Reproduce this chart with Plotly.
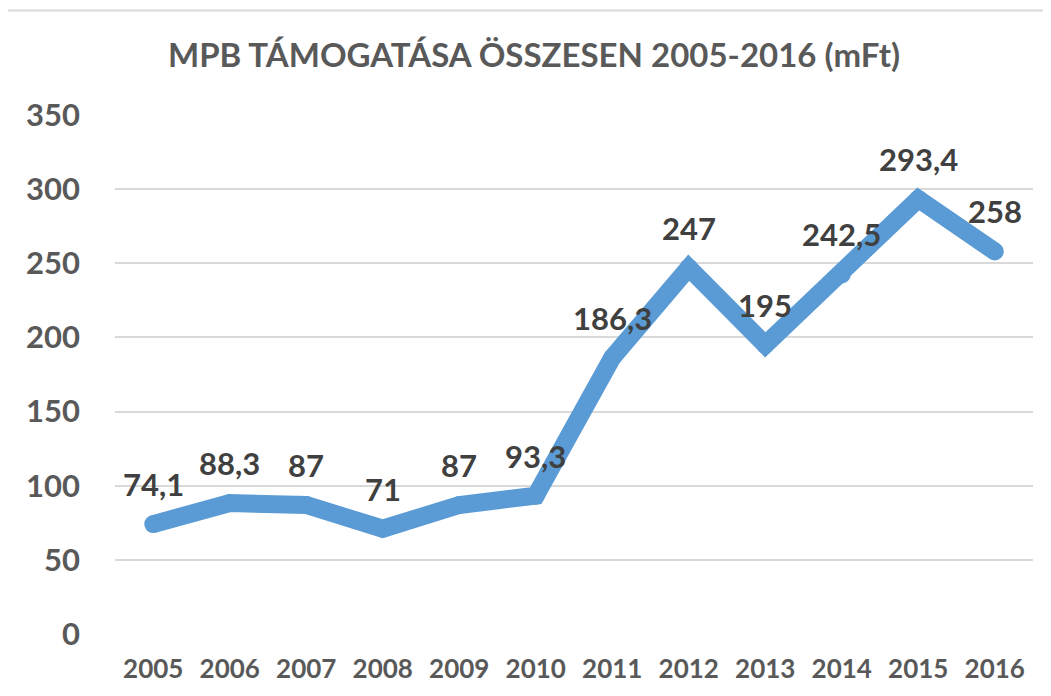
import plotly.graph_objects as go

years = ["2005", "2006", "2007", "2008", "2009", "2010", "2011", "2012", "2013", "2014", "2015", "2016"]
values = [74.1, 88.3, 87, 71, 87, 93.3, 186.3, 247, 195, 242.5, 293.4, 258]
labels = ["74,1", "88,3", "87", "71", "87", "93,3", "186,3", "247", "195", "242,5", "293,4", "258"]
y_ticks = [0, 50, 100, 150, 200, 250, 300, 350]

FONT = "Lato, Noto Sans, sans-serif"
LINE_W = 18

fig = go.Figure()
fig.add_trace(go.Scatter(
    x=years, y=values, mode="lines+markers",
    line=dict(color="#5B9BD5", width=LINE_W),
    marker=dict(color="#5B9BD5", size=LINE_W, line=dict(width=0)),
    hoverinfo="skip", showlegend=False,
))

for i, (v, lab) in enumerate(zip(values, labels)):
    fig.add_annotation(x=i, y=v, text=lab, showarrow=False,
                       yanchor="middle", yshift=40,
                       font=dict(family=FONT, size=31, color="#404040", weight="bold"))

# page body has an 8px margin; compensate so picture matches the target pixels
OFF = 8
W, H = 1051 - OFF, 696 - OFF
L, R, T, B = 115 - OFF, 18, 115 - OFF, 63 - OFF
pw, ph = W - L - R, H - T - B

def px_x(p):
    return (p - OFF - L) / pw

def px_y(p):
    return (H - B - (p - OFF)) / ph

fig.add_shape(type="rect", xref="paper", yref="paper",
              x0=px_x(6), x1=px_x(1060), y0=px_y(705), y1=px_y(9),
              line=dict(color="#D9D9D9", width=2), fillcolor="rgba(0,0,0,0)", layer="below")

fig.update_layout(
    width=W, height=H,
    margin=dict(l=L, r=R, t=T, b=B),
    paper_bgcolor="white", plot_bgcolor="white",
    title=dict(text="MPB TÁMOGATÁSA ÖSSZESEN 2005-2016 (mFt)",
               x=(534 - OFF) / W, xref="container", xanchor="center",
               y=1 - (55 - OFF) / H, yref="container", yanchor="middle",
               font=dict(family=FONT, size=33, color="#595959", weight="bold")),
    xaxis=dict(type="category", categoryorder="array", categoryarray=years,
               range=[-0.5, len(years) - 0.5],
               showgrid=False, zeroline=False, showline=False,
               ticks="", tickfont=dict(family=FONT, size=26, color="#595959", weight="bold"),
               ticklabelstandoff=17),
    yaxis=dict(range=[0, 350], tickvals=y_ticks, showgrid=True, gridcolor="#D9D9D9",
               gridwidth=2, zeroline=False, showline=False, ticks="",
               tickfont=dict(family=FONT, size=31, color="#595959", weight="bold"),
               ticklabelstandoff=34),
)

fig.write_html("out.html")
